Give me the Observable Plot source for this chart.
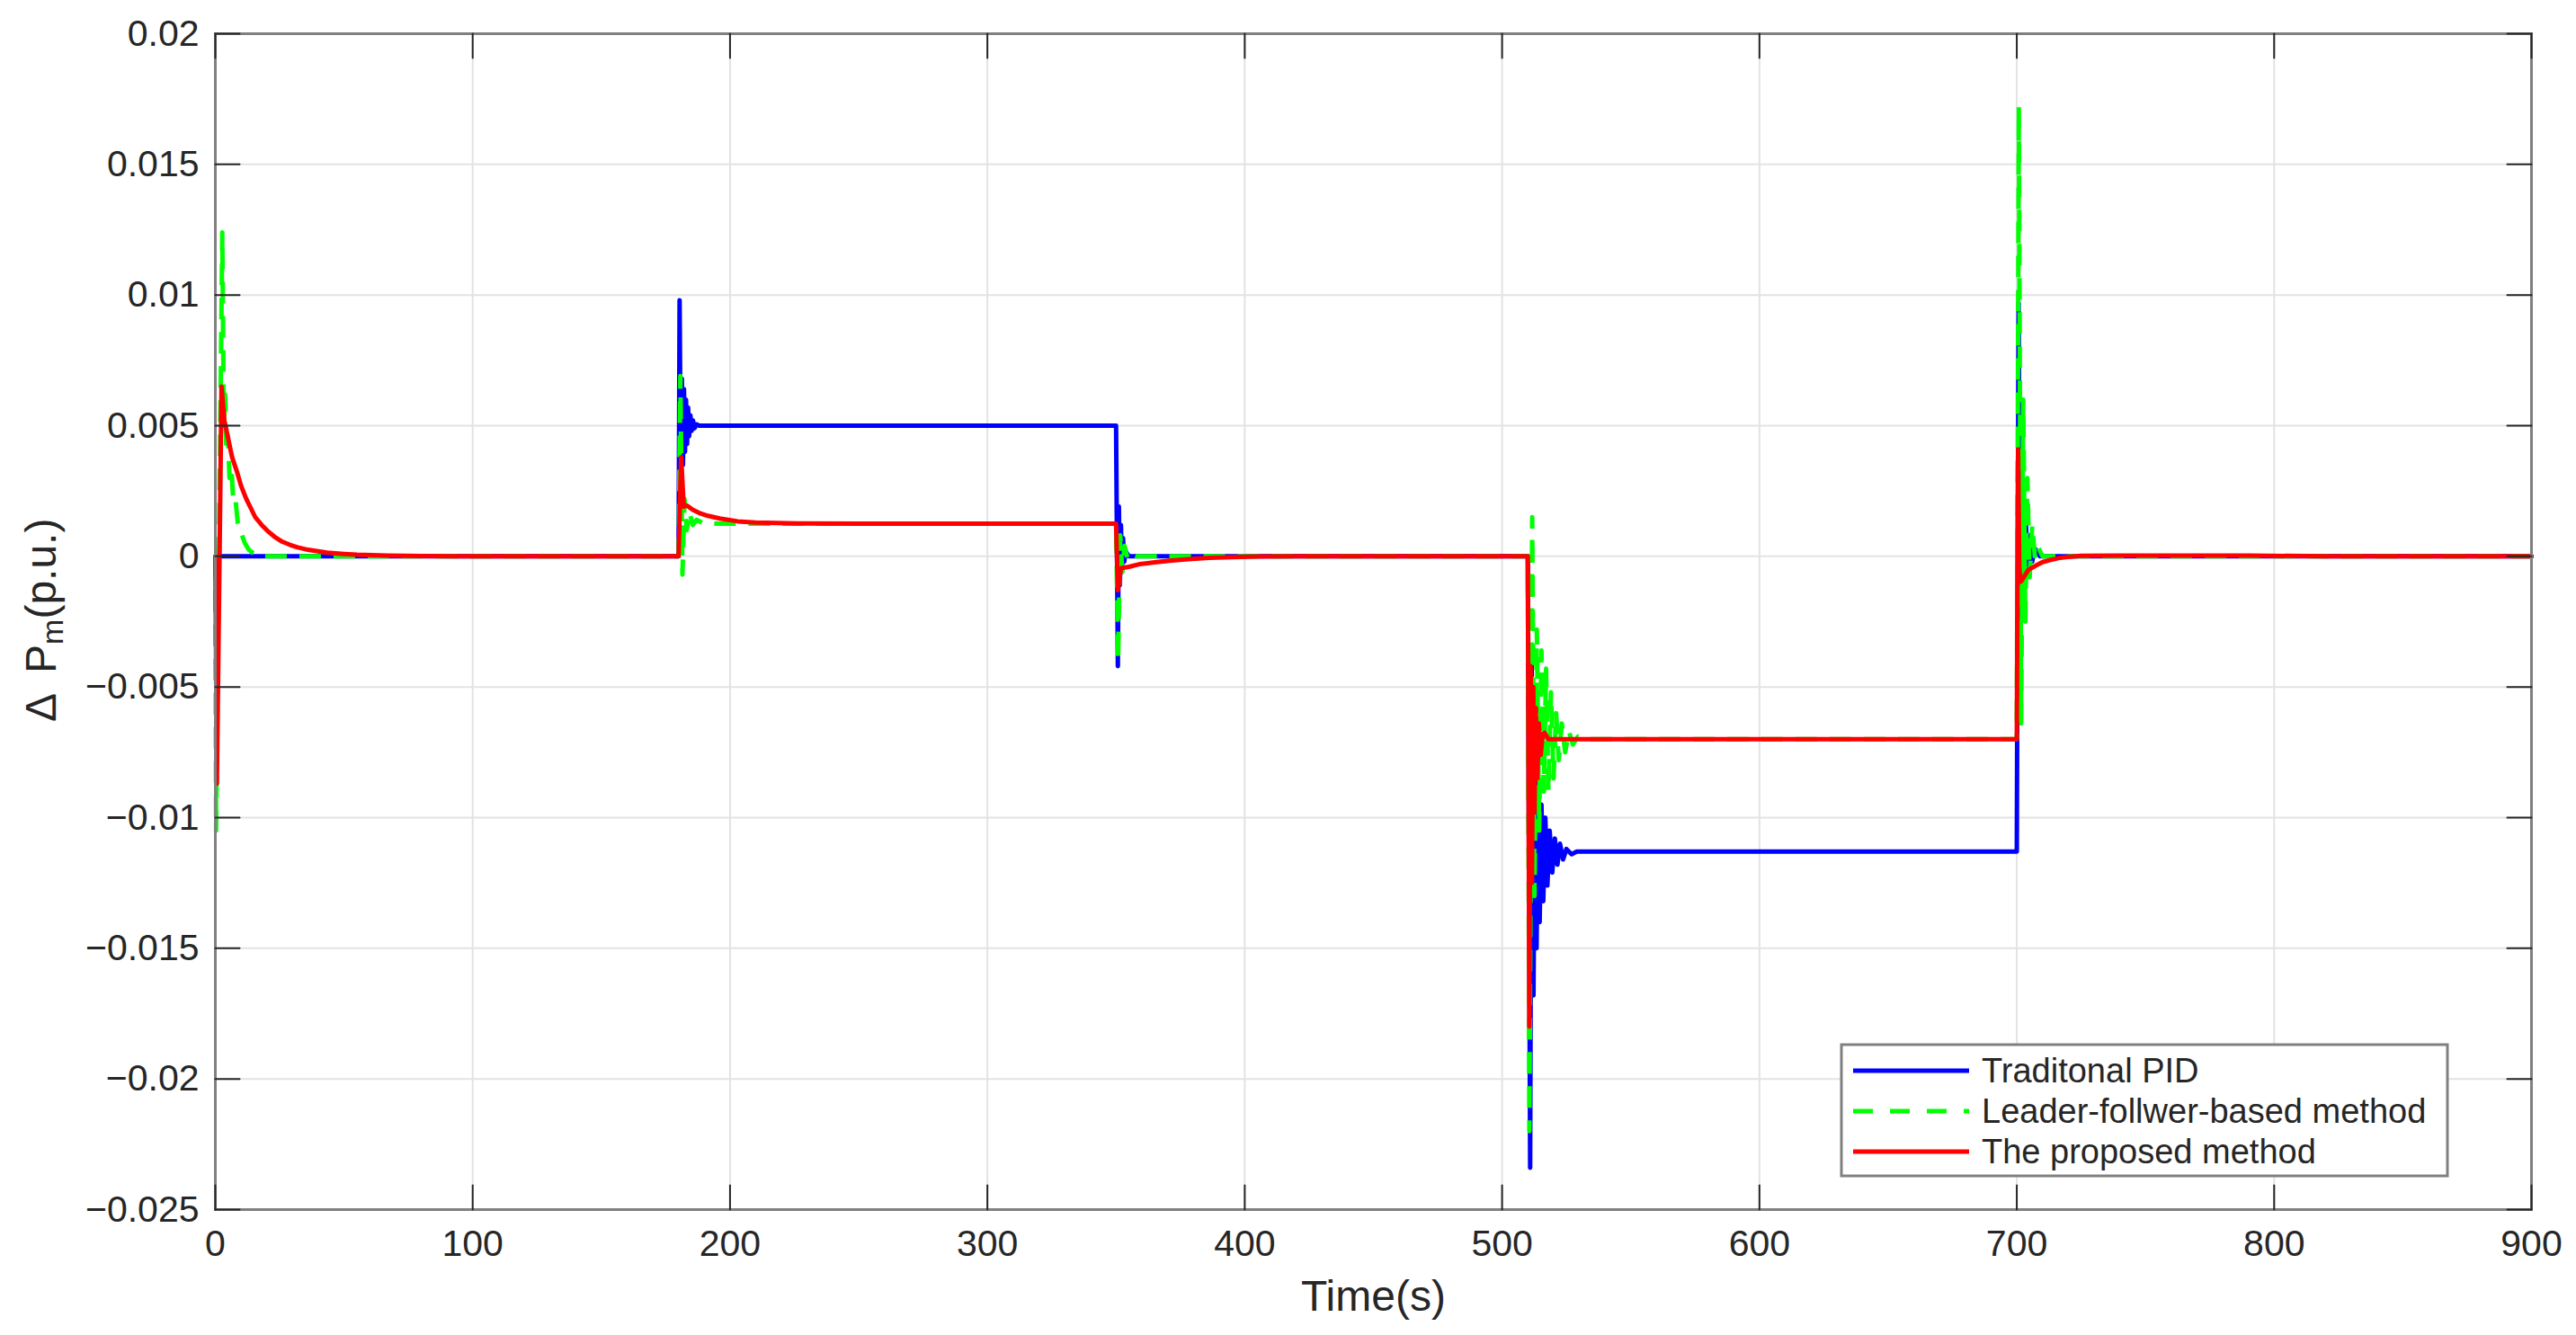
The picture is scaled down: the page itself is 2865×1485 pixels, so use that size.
<!DOCTYPE html>
<html>
<head>
<meta charset="utf-8">
<script src="https://cdn.jsdelivr.net/npm/d3@7"></script>
<script src="https://cdn.jsdelivr.net/npm/@observablehq/plot@0.6"></script>
<style>
  html, body { margin: 0; padding: 0; background: #ffffff; }
  #chart { width: 2865px; height: 1485px; }
</style>
</head>
<body>
<div id="chart"></div>
<script>
// ---- axis ticks ----
const xTicks = [0, 100, 200, 300, 400, 500, 600, 700, 800, 900];
const yTicks = [-0.025, -0.02, -0.015, -0.01, -0.005, 0, 0.005, 0.01, 0.015, 0.02];

// ---- series names ----
const seriesNames = ["Traditonal PID", "Leader-follwer-based method", "The proposed method"];
const seriesColors = ["#0000ff", "#00ff00", "#ff0000"];

// ---- Traditional PID : [time (s), ΔPm (p.u.)] ----
const pidData = [
  [0, 0], [180.0, 0], [180.4, 0.0098], [180.9, 0.0027], [181.3, 0.0068], [181.7, 0.0035],
  [182.1, 0.0064], [182.5, 0.0040], [182.9, 0.0060], [183.3, 0.0043], [183.7, 0.0057],
  [184.1, 0.0046], [184.6, 0.0054], [185.1, 0.0048], [185.6, 0.0052], [186.2, 0.0049],
  [187, 0.00505], [188, 0.005], [350.0, 0.005],
  [350.7, -0.0042], [351.1, 0.0019], [351.5, -0.0011], [351.9, 0.0012], [352.3, -0.0006],
  [352.7, 0.0007], [353.2, -0.0002], [353.7, 0.0002], [355, 0], [510.0, 0],
  [510.9, -0.0234], [511.5, -0.0040], [512.2, -0.0168], [512.8, -0.0075], [513.4, -0.0150],
  [514.0, -0.0088], [514.6, -0.0140], [515.3, -0.0095], [516.0, -0.0132], [516.8, -0.0100],
  [517.6, -0.0126], [518.5, -0.0105], [519.5, -0.0121], [520.5, -0.0108], [521.5, -0.0118],
  [522.5, -0.0110], [523.7, -0.0116], [525, -0.0112], [527, -0.0114], [529, -0.0113],
  [700.0, -0.0113],
  [700.7, 0.0097], [701.4, -0.0038], [702.1, 0.0035], [702.8, -0.0015], [703.5, 0.0015],
  [704.2, -0.0007], [705, 0.0008], [706, -0.0002], [707, 0.0003], [709, 0], [900, 0]
];

// ---- Leader-follower-based method ----
const lfData = [
  [0, 0], [0.3, -0.0105], [2.7, 0.0124], [3.3, 0.0050], [3.8, 0.0062], [4.3, 0.0040],
  [4.9, 0.0046], [5.5, 0.0030], [6.2, 0.0034], [7.0, 0.0021], [7.8, 0.0022], [8.7, 0.0013],
  [10, 0.0009], [11.5, 0.0005], [13, 0.00025], [15, 0.0001], [17, 0], [180, 0],
  [180.7, 0.0069], [181.5, -0.0007], [182.3, 0.0022], [183.2, 0.0010], [184.2, 0.0017],
  [185.5, 0.0012], [187, 0.0014], [190, 0.00125], [350, 0.00125],
  [350.8, -0.0040], [351.6, 0.0008], [352.4, -0.0006], [353.3, 0.0004], [354.5, -0.0001],
  [356, 0.0001], [358, 0], [510, 0],
  [510.6, -0.0220], [511.7, 0.0015], [512.6, -0.0130], [513.5, -0.0028], [514.4, -0.0105],
  [515.3, -0.0036], [516.2, -0.0090], [517.1, -0.0043], [518.0, -0.0090], [519.0, -0.0052],
  [520.0, -0.0085], [521.0, -0.0060], [522.0, -0.0078], [523.2, -0.0064], [524.5, -0.0075],
  [526, -0.0067], [527.5, -0.0072], [529.5, -0.0069], [532, -0.0070], [700, -0.0070],
  [700.8, 0.0172], [701.7, -0.0064], [702.5, 0.0060], [703.3, -0.0025], [704.1, 0.0030],
  [705, -0.0008], [706, 0.0012], [707, 0], [708, 0.0004], [710, 0], [900, 0]
];

// ---- The proposed method ----
const propData = [
  [0, 0], [0.6, -0.0087], [2.4, 0.0065], [3.5, 0.0052], [5.0, 0.0045], [6.5, 0.0038],
  [8.5, 0.0032], [10, 0.0027], [12, 0.0022], [14, 0.0018], [15.5, 0.0015], [18, 0.0012],
  [20.2, 0.00098], [23, 0.00075], [26, 0.00056], [29, 0.00044], [31.7, 0.00035], [36, 0.00025],
  [43.4, 0.00014], [50, 0.00009], [55, 0.00006], [66.7, 0.00003], [80, 0.00001], [100, 0],
  [180, 0], [181.0, 0.0038], [182.0, 0.0019], [183.2, 0.00195], [185.5, 0.00178], [188, 0.00166],
  [191.4, 0.00155], [196, 0.00145], [203, 0.00134], [210, 0.00129], [226, 0.00126], [250, 0.00125],
  [350, 0.00125],
  [350.7, -0.0013], [351.9, -0.00045], [355, -0.00040], [359, -0.00030], [365, -0.00023],
  [370.7, -0.00017], [378, -0.00011], [386, -0.00006], [395, -0.00003], [405, -0.00001],
  [420, 0], [510, 0],
  [510.6, -0.0180], [511.1, -0.0042], [511.6, -0.0125], [512.1, -0.0050], [512.6, -0.0098],
  [513.1, -0.0058], [513.7, -0.0085], [514.3, -0.0064], [515.0, -0.0076], [515.8, -0.0068],
  [516.5, -0.00675], [518, -0.0070], [700, -0.0070],
  [700.5, 0.0041], [701.0, -0.0005], [701.6, -0.00097], [702.7, -0.0008], [704.5, -0.00052],
  [707.3, -0.00036], [710, -0.00022], [713.1, -0.00014], [716, -0.00007], [719, -0.00003],
  [725, 0.00002], [740, 0.00003], [790, 0.00003], [820, 0], [900, 0]
];

const FONT = "'Liberation Sans', Arial, Helvetica, sans-serif";
const tickShape = { draw(context, l) { context.moveTo(0, 0); context.lineTo(0, -l); } };
const tickStyle = { length: 27, anchor: "start", shape: tickShape, stroke: "#262626", strokeWidth: 2 };

const chart = Plot.plot({
  width: 2865,
  height: 1485,
  marginTop: 37,
  marginRight: 50,
  marginBottom: 140,
  marginLeft: 239,
  style: { fontSize: "41px", fontFamily: FONT, color: "#262626", background: "#ffffff" },
  x: { domain: [0, 900], ticks: xTicks, tickSize: 0, tickPadding: 22, label: null, tickFormat: d3.format("~g") },
  y: { domain: [-0.025, 0.02], ticks: yTicks, tickSize: 0, tickPadding: 18, label: null, tickFormat: d3.format("~g") },
  marks: [
    Plot.ruleX(xTicks, { x: d => d, stroke: "#e3e3e3", strokeWidth: 2 }),
    Plot.ruleY(yTicks, { y: d => d, stroke: "#e3e3e3", strokeWidth: 2 }),
    Plot.line(pidData, { x: d => d[0], y: d => d[1], stroke: seriesColors[0], strokeWidth: 5 }),
    Plot.line(lfData, { x: d => d[0], y: d => d[1], stroke: seriesColors[1], strokeWidth: 5, strokeDasharray: "24,14", strokeLinecap: "butt" }),
    Plot.line(propData, { x: d => d[0], y: d => d[1], stroke: seriesColors[2], strokeWidth: 5 }),
    Plot.frame({ stroke: "#808080", strokeWidth: 3 }),
    Plot.vector(yTicks, { x: 0, y: d => d, rotate: 90, ...tickStyle }),
    Plot.vector(yTicks, { x: 900, y: d => d, rotate: -90, ...tickStyle }),
    Plot.vector(xTicks, { x: d => d, y: -0.025, rotate: 0, ...tickStyle }),
    Plot.vector(xTicks, { x: d => d, y: 0.02, rotate: 180, ...tickStyle }),
    Plot.text(["Time(s)"], { frameAnchor: "bottom", text: d => d, dy: 112, lineAnchor: "bottom", fontSize: 48, fill: "#262626" })
  ]
});

document.getElementById("chart").appendChild(chart);

// ---- y-axis label with subscript ----
const svg = d3.select(chart);
const yl = svg.append("text")
  .attr("transform", "translate(62,803) rotate(-90)")
  .attr("text-anchor", "start")
  .attr("font-family", FONT)
  .attr("font-size", 48)
  .attr("fill", "#262626");
yl.append("tspan").text("Δ");
yl.append("tspan").attr("dx", 22).text("P");
yl.append("tspan").attr("font-size", 34).attr("dy", 8).text("m");
yl.append("tspan").attr("font-size", 48).attr("dy", -8).text("(p.u.)");

// ---- legend ----
const lg = svg.append("g").attr("text-anchor", "start");
lg.append("rect").attr("x", 2048).attr("y", 1162).attr("width", 674).attr("height", 146)
  .attr("fill", "#ffffff").attr("stroke", "#808080").attr("stroke-width", 3);
const rowY = [1191, 1236, 1281];
seriesNames.forEach((name, i) => {
  lg.append("line").attr("x1", 2061).attr("x2", 2190).attr("y1", rowY[i]).attr("y2", rowY[i])
    .attr("stroke", seriesColors[i]).attr("stroke-width", 5)
    .attr("stroke-dasharray", i === 1 ? "22,19" : null);
  lg.append("text").attr("x", 2204).attr("y", rowY[i]).attr("dy", "0.35em")
    .attr("text-anchor", "start")
    .attr("font-family", FONT).attr("font-size", 38).attr("fill", "#262626").text(name);
});
</script>
</body>
</html>
